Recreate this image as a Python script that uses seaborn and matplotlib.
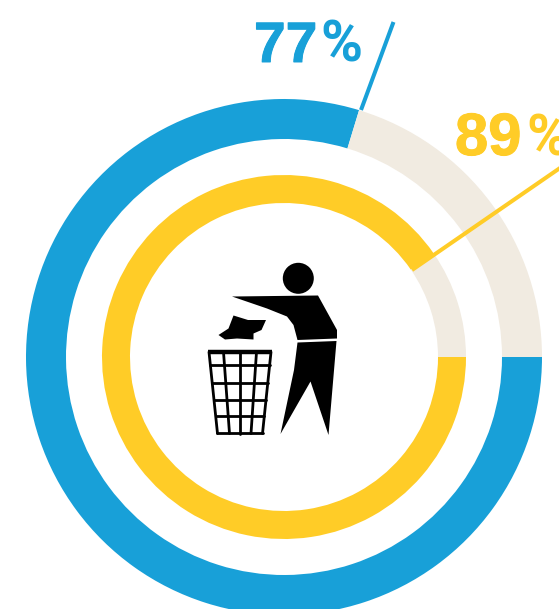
import matplotlib
matplotlib.use('Agg')
import matplotlib.pyplot as plt
from matplotlib.patches import Polygon, Circle
import matplotlib.patheffects as pe
import seaborn as sns

# Data
rings = ['outer', 'inner']
labels = ['77', '89']
filled_share = [79.7, 90.4]   # share of the ring as drawn, not the printed label
empty_share = [20.3, 9.6]
ring_colors = ['#18A0D8', '#FFCC27']
empty_color = '#F1EBE1'

# Layout, in pixels of the picture
W, H = 559, 609
cx, cy = 284, 357
outer_radius = [258, 182]
ring_width = [40, 28]
leader_x = [[361, 393.5], [412, 560]]
leader_y = [[110, 22], [270, 168]]
label_x = [254, 455]
percent_x = [320, 526]
label_y = [62, 155]
label_size = [41, 43]

# Icon outlines
torso = [(232, 296.5), (318, 295.5), (337, 330), (337, 338.5), (297.5, 340),
         (293.5, 325), (287, 316.5), (267, 308.5)]
legs = [(297.5, 342.5), (336.5, 341), (328.5, 435), (310.5, 381.5), (280.5, 434), (294, 370)]
paper = [(233.5, 315.5), (248, 320), (266, 320), (261.5, 330), (253.5, 333.5), (253.5, 339.5),
         (237, 338.5), (225, 339.5), (218.5, 335), (228.5, 328.5)]
bin_top_x = [209, 223.5, 240, 256.5, 271]
bin_bottom_x = [217.5, 229.5, 240, 251, 262.5]
bin_rows_y = [365, 383, 400, 416, 433]

sns.set_theme(style='white')
plt.rcParams['font.family'] = ['Liberation Sans', 'DejaVu Sans']

fig = plt.figure(figsize=(W / 100, H / 100), dpi=100)
ax = fig.add_axes([0, 0, 1, 1])

for i, ring in enumerate(rings):
    ax.pie([filled_share[i], empty_share[i]], colors=[ring_colors[i], empty_color],
           radius=outer_radius[i], center=(cx, cy), startangle=0, counterclock=True,
           wedgeprops={'width': ring_width[i], 'linewidth': 0})
    ax.plot(leader_x[i], leader_y[i], color=ring_colors[i], lw=2.9, solid_capstyle='butt')
    ax.text(label_x[i], label_y[i], labels[i], color=ring_colors[i], fontsize=label_size[i],
            fontweight='bold', ha='left', va='baseline',
            path_effects=[pe.withStroke(linewidth=0.7, foreground=ring_colors[i])])
    ax.text(percent_x[i], label_y[i], '%', color=ring_colors[i], fontsize=41,
            fontweight='bold', family=['Roboto', 'Liberation Sans'],
            ha='left', va='baseline')

# Person and bin
ax.add_patch(Circle((298.3, 278.3), 15.5, color='black', lw=0))
for shape in [torso, legs, paper]:
    ax.add_patch(Polygon(shape, closed=True, color='black', lw=0))

ax.plot([207.5, 272], [352, 352], color='black', lw=3.2, solid_capstyle='butt')
for top, bottom in zip(bin_top_x, bin_bottom_x):
    ax.plot([top, bottom], [352, 433.5], color='black', lw=2)
for y in bin_rows_y:
    frac = (y - 352) / (433.5 - 352)
    left = bin_top_x[0] + (bin_bottom_x[0] - bin_top_x[0]) * frac
    right = bin_top_x[-1] + (bin_bottom_x[-1] - bin_top_x[-1]) * frac
    ax.plot([left, right], [y, y], color='black', lw=2)

ax.set_xlim(0, W)
ax.set_ylim(H, 0)
ax.set_aspect('equal')
ax.axis('off')

fig.savefig('out.png', dpi=100, facecolor='white')
